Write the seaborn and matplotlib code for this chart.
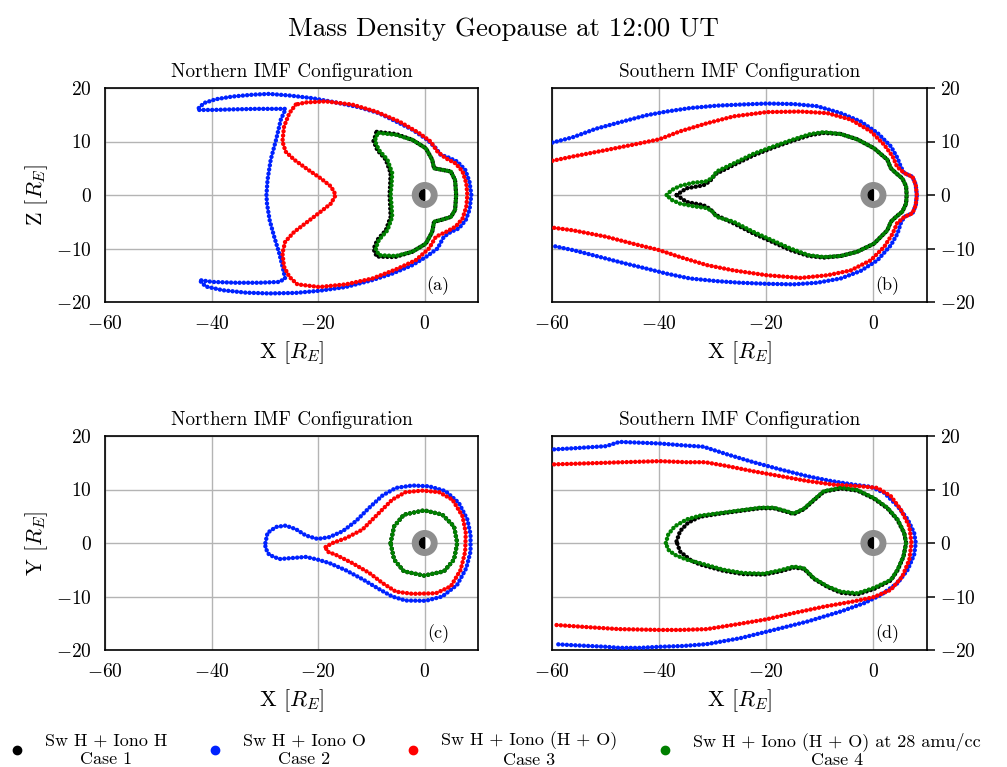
import numpy as np
import pandas as pd
import matplotlib
matplotlib.use("Agg")
import matplotlib.pyplot as plt
from matplotlib.patches import Circle, Wedge
from matplotlib.lines import Line2D
import seaborn as sns

sns.set_style("white")
plt.rcParams["font.family"] = "serif"
plt.rcParams["font.serif"] = ["cmr10", "DejaVu Serif"]
plt.rcParams["mathtext.fontset"] = "cm"
plt.rcParams["axes.formatter.use_mathtext"] = True
plt.rcParams["axes.unicode_minus"] = True
for k in ["text.color", "axes.labelcolor", "xtick.color", "ytick.color", "axes.titlecolor"]:
    plt.rcParams[k] = "black"

# ---------------- data ----------------
# Panel (a): Northern IMF, X-Z plane
a_blue_x = [-42.4, -41.4, -39.2, -36.1, -32.3, -29.2, -25.4, -21.1, -16.7, -12.3, -8.6, -5.4, -2.3, 0.5, 2.1, 3.0, 4.25, 6.1, 7.6, 8.4, 8.75,
            8.4, 7.7, 6.4, 4.9, 3.6, 2.4, 0.2, -2.3, -6.1, -9.8, -14.8, -19.8, -24.2, -29.2, -33.6, -37.9, -41.1, -42.3,
            -39.8, -35.4, -31.1, -27.3, -26.2, -26.6, -27.3, -28.25, -29.1, -29.6, -29.7, -29.5, -28.9, -27.9, -27.0, -26.1,
            -27.9, -31.7, -36.1, -39.8, -42.3, -42.4]
a_blue_y = [16.25, 17.2, 17.9, 18.4, 18.75, 18.9, 18.6, 18.1, 17.3, 16.4, 15.3, 13.75, 12.2, 10.3, 8.75, 7.5, 7.1, 6.25, 4.7, 2.5, 0.0,
            -2.8, -4.7, -6.25, -6.9, -7.8, -10.0, -11.6, -13.1, -14.7, -15.9, -17.2, -17.9, -18.3, -18.4, -18.25, -17.8, -17.1, -15.9,
            -16.25, -16.4, -16.4, -16.25, -15.6, -13.75, -10.9, -7.8, -4.7, -1.6, 0.0, 2.8, 6.6, 10.3, 14.1, 16.1,
            16.1, 16.1, 16.0, 15.9, 15.9, 16.25]
a_red_x = [-24.2, -25.4, -26.4, -26.7, -26.1, -24.5, -22.0, -19.5, -17.6, -16.7, -17.6, -19.5, -22.0, -24.5, -26.2, -26.7, -26.4, -25.4, -23.9,
           -19.8, -14.8, -9.8, -5.4, -1.7, 0.8, 2.1, 4.0, 5.8, 7.1, 7.8, 8.0, 7.8, 7.1, 5.8, 3.9, 2.4, 1.1, -1.1, -4.8, -9.2, -13.6, -18.6, -22.3, -24.2]
a_red_y = [16.9, 15.3, 12.8, 10.0, 8.1, 6.6, 4.8, 3.1, 1.6, 0.0, -1.6, -3.1, -5.0, -6.9, -8.75, -10.9, -13.4, -15.3, -16.7,
           -17.2, -16.7, -15.6, -13.9, -12.2, -10.0, -7.8, -6.9, -5.9, -4.4, -2.2, 0.0, 2.2, 4.4, 5.9, 6.9, 8.1, 10.0, 11.6, 13.75, 15.6, 16.9, 17.5, 17.3, 16.9]
a_green_x = [-8.6, -5.4, -2.3, 0.2, 1.4, 1.75, 3.3, 4.9, 5.7, 5.9, 5.7, 4.9, 3.3, 1.75, 1.4, 0.2, -2.3, -5.4, -8.6, -9.2, -8.6, -7.0,
             -6.1, -6.25, -6.4, -6.25, -6.1, -7.0, -8.6, -9.3, -9.2, -8.6]
a_green_y = [11.6, 11.25, 10.3, 8.75, 6.6, 5.0, 4.7, 4.4, 2.8, 0.0, -2.8, -4.1, -4.6, -5.0, -6.9, -9.1, -10.6, -11.4, -11.25, -10.0, -8.4, -6.6,
             -4.1, -1.6, 0.0, 1.6, 4.1, 6.6, 8.4, 10.0, 10.9, 11.6]
a_black_x = [-9.0, -5.4, -2.3, 0.2, 1.4, 1.75, 3.3, 4.9, 5.7, 5.9, 5.7, 4.9, 3.3, 1.75, 1.4, 0.2, -2.3, -5.6, -9.0, -9.6, -8.9, -7.3,
             -6.4, -6.5, -6.6, -6.5, -6.4, -7.3, -8.9, -9.6, -9.0]
a_black_y = [11.8, 11.4, 10.3, 8.75, 6.6, 5.0, 4.7, 4.4, 2.8, 0.0, -2.8, -4.1, -4.6, -5.0, -6.9, -9.1, -10.6, -11.6, -11.5, -10.1, -8.4, -6.6,
             -4.1, -1.6, 0.0, 1.6, 4.1, 6.6, 8.4, 10.1, 11.8]

# Panel (b): Southern IMF, X-Z plane
b_blue_x = [-59.9, -56.1, -51.75, -46.75, -42.4, -38.6, -34.25, -29.25, -24.9, -19.9, -14.9, -10.5, -6.1, -2.4, 0.75, 3.25, 4.5, 5.1,
            5.75, 7.3, 7.9, 8.1, 7.9, 7.3, 5.75,
            5.1, 4.5, 3.25, 0.75, -2.4, -6.1, -10.5, -14.9, -19.9, -24.9, -29.25, -34.25, -38.6, -42.4, -46.75, -51.75, -56.1, -59.9]
b_blue_y = [9.8, 10.8, 12.4, 13.75, 14.9, 15.6, 16.25, 16.7, 16.9, 17.1, 17.0, 16.6, 15.3, 13.75, 11.6, 9.1, 6.9, 5.3,
            4.1, 3.4, 1.9, 0.0, -1.9, -3.4, -4.1,
            -5.3, -7.2, -9.4, -12.2, -14.2, -15.6, -16.4, -16.7, -16.6, -16.4, -16.1, -15.6, -14.7, -13.75, -12.7, -11.4, -10.3, -9.5]
b_red_x = [-59.9, -56.1, -49.9, -44.9, -40.0, -36.1, -31.1, -26.1, -19.9, -13.6, -8.6, -4.25, -0.5, 2.0, 3.6, 4.4,
           5.75, 7.3, 7.9, 8.1, 7.9, 7.3, 5.75,
           4.4, 3.6, 2.0, -0.5, -4.25, -8.6, -13.6, -19.9, -26.1, -31.1, -36.1, -40.0, -44.9, -49.9, -56.1, -59.9]
b_red_y = [6.4, 7.2, 8.4, 9.4, 10.4, 11.9, 13.4, 14.7, 15.5, 15.6, 15.3, 14.1, 11.9, 9.4, 7.2, 5.3,
           4.1, 3.4, 1.9, 0.0, -1.9, -3.4, -4.1,
           -5.3, -7.2, -9.7, -12.2, -14.1, -15.0, -15.5, -15.0, -14.1, -13.1, -11.6, -10.3, -9.1, -7.8, -6.6, -6.1]
b_green_x = [-38.6, -37.7, -36.1, -33.6, -31.4, -30.2, -29.25, -26.1, -22.4, -18.6, -14.9, -11.75, -9.25, -6.1, -3.0, 0.1, 2.6, 3.25,
             4.2, 5.4, 6.1, 6.2, 6.1, 5.4, 4.2, 3.25, 2.6, 0.1, -3.0, -6.1, -9.25, -12.1, -15.5, -18.6, -22.4, -26.1, -29.25,
             -30.2, -31.4, -33.6, -36.1, -37.7, -38.6]
b_green_y = [0.0, 0.9, 1.7, 2.3, 2.5, 3.1, 4.4, 5.9, 7.7, 9.1, 10.4, 11.4, 11.75, 11.4, 10.4, 8.75, 6.6, 5.0,
             4.1, 3.1, 1.6, 0.0, -1.6, -3.1, -4.1, -5.0, -6.6, -9.1, -10.6, -11.4, -11.6, -11.25, -10.0, -8.6, -6.9, -5.0, -4.1,
             -2.9, -2.4, -2.1, -1.6, -0.9, 0.0]
b_black_x = [-36.75, -34.9, -31.75, -30.5, -29.5, -26.1, -22.4, -18.6, -14.9, -11.75, -9.25, -6.1, -3.0, 0.1, 2.6, 3.25,
             4.2, 5.4, 6.1, 6.2, 6.1, 5.4, 4.2, 3.25, 2.6, 0.1, -3.0, -6.1, -9.25, -12.1, -15.5, -18.6, -22.4, -26.1, -29.5,
             -30.5, -31.75, -34.9, -36.75]
b_black_y = [0.0, 1.25, 1.8, 2.6, 3.9, 5.6, 7.4, 8.9, 10.2, 11.2, 11.6, 11.4, 10.4, 8.75, 6.6, 5.0,
             4.1, 3.1, 1.6, 0.0, -1.6, -3.1, -4.1, -5.0, -6.6, -9.1, -10.6, -11.4, -11.7, -11.4, -10.3, -8.9, -7.2, -5.3, -3.7,
             -2.6, -1.9, -1.3, 0.0]

# Panel (c): Northern IMF, X-Y plane
c_blue_x = [-29.9, -29.5, -27.9, -26.1, -24.2, -22.3, -20.1, -17.9, -15.4, -12.9, -10.4, -7.9, -5.4, -2.3, 0.8, 3.9, 6.4, 8.0, 8.6,
            8.6, 7.8, 6.1, 3.3, 0.2, -3.6, -6.1, -8.6, -11.7, -14.8, -17.9, -20.1, -22.3, -24.8, -27.3, -29.2, -29.9, -29.9]
c_blue_y = [0.0, 1.9, 3.0, 3.25, 2.6, 1.4, 0.75, 1.1, 2.2, 4.1, 6.6, 8.9, 10.3, 10.75, 10.6, 9.7, 7.5, 4.4, 1.6,
            -1.6, -4.7, -7.8, -10.0, -10.8, -10.75, -10.0, -8.6, -6.75, -5.1, -3.75, -3.1, -2.6, -2.8, -3.0, -2.2, -0.9, 0.0]
c_red_x = [-18.6, -17.3, -14.8, -11.7, -8.6, -6.1, -3.6, -0.4, 2.7, 5.2, 7.1, 7.7, 7.6, 6.75, 4.9, 2.1, -2.3, -5.4, -7.9, -10.4,
           -13.6, -16.7, -18.3, -18.6]
c_red_y = [-0.75, 0.0, 0.9, 2.5, 5.6, 8.1, 9.5, 9.8, 9.5, 8.1, 5.0, 1.9, -1.6, -5.0, -8.1, -9.4, -9.5, -9.1, -7.5, -5.6,
           -3.75, -2.2, -1.6, -0.75]
c_green_x = [-6.4, -5.75, -3.9, -0.1, 3.3, 5.5, 6.1, 5.5, 3.6, -0.1, -3.9, -5.75, -6.4]
c_green_y = [0.0, 3.1, 5.3, 6.1, 5.3, 3.1, 0.0, -3.1, -5.3, -6.1, -5.3, -3.1, 0.0]
c_black_x = [-6.4, -5.75, -3.9, -0.1, 3.3, 5.5, 6.1, 5.5, 3.6, -0.1, -3.9, -5.75, -6.4]
c_black_y = [0.0, 3.1, 5.3, 6.1, 5.3, 3.1, 0.0, -3.1, -5.3, -6.1, -5.3, -3.1, 0.0]

# Panel (d): Southern IMF, X-Y plane
d_blue_x = [-59.6, -56.1, -49.9, -47.4, -43.6, -39.9, -35.5, -31.75, -27.4, -22.4, -17.4, -12.4, -8.0, -3.6, -0.5, 2.0, 4.5, 6.4, 7.6, 7.9,
            7.6, 6.4, 4.5, 1.4, -1.75, -6.1, -12.4, -18.6, -24.9, -31.1, -35.5, -39.9, -43.6, -47.4, -49.9, -56.1, -59.6]
d_blue_y = [17.5, 17.7, 18.1, 18.9, 18.75, 18.6, 18.25, 18.0, 16.6, 15.1, 13.75, 12.5, 11.6, 10.9, 10.5, 9.4, 6.9, 4.4, 1.9, 0.0,
            -2.2, -5.0, -7.5, -9.7, -11.25, -12.8, -14.7, -16.25, -17.8, -18.9, -19.25, -19.4, -19.6, -19.6, -19.4, -19.1, -18.9]
d_red_x = [-59.6, -53.0, -46.75, -39.9, -34.9, -31.4, -27.4, -22.4, -17.4, -12.4, -7.4, -2.4, 0.75, 3.25, 5.1, 6.7, 7.1,
           6.7, 5.4, 3.25, 0.1, -3.6, -9.25, -14.9, -19.9, -24.9, -31.1, -36.1, -39.9, -47.4, -53.0, -59.6]
d_red_y = [14.7, 14.9, 15.1, 15.3, 15.1, 15.1, 14.4, 13.4, 12.5, 11.6, 10.9, 10.6, 10.3, 8.75, 6.25, 3.1, 0.0,
           -3.1, -6.25, -8.75, -10.1, -10.9, -11.9, -13.1, -14.25, -15.1, -16.1, -16.25, -16.25, -16.1, -15.75, -15.3]
d_green_x = [-38.75, -38.3, -37.1, -34.9, -32.4, -28.6, -24.9, -21.1, -18.6, -16.1, -14.9, -13.0, -11.1, -9.25, -6.1, -3.0, 0.1, 2.6,
             4.5, 5.75, 6.1, 5.6, 4.5, 3.25, 0.1, -3.0, -6.1, -8.6, -11.1, -13.0, -14.9, -17.4, -20.5, -24.4, -28.0, -32.4,
             -34.9, -37.1, -38.3, -38.75]
d_green_y = [0.0, 1.6, 3.1, 4.4, 5.1, 5.6, 6.1, 6.6, 6.6, 5.9, 5.5, 6.4, 8.1, 9.7, 10.3, 9.9, 8.4, 6.6,
             4.4, 1.9, 0.0, -2.5, -5.0, -6.9, -8.4, -9.4, -9.1, -8.1, -6.6, -4.7, -4.4, -5.1, -5.75, -5.6, -5.0, -3.75,
             -3.1, -2.2, -1.25, 0.0]
d_black_x = [-36.75, -36.1, -34.6, -32.4, -28.6, -24.9, -21.1, -18.6, -16.1, -14.9, -13.0, -11.1, -9.25, -6.1, -3.0, 0.1, 2.6,
             4.5, 5.75, 6.1, 5.6, 4.5, 3.25, 0.1, -3.0, -6.1, -8.6, -11.1, -13.0, -14.9, -17.4, -20.5, -24.4, -28.0, -32.4,
             -34.0, -36.1, -36.75]
d_black_y = [0.3, 2.2, 3.8, 4.9, 5.5, 6.0, 6.5, 6.5, 5.8, 5.4, 6.3, 8.0, 9.6, 10.2, 9.8, 8.3, 6.5,
             4.3, 1.8, 0.0, -2.6, -5.1, -7.0, -8.6, -9.6, -9.3, -8.2, -6.7, -4.8, -4.6, -5.3, -5.9, -5.8, -5.2, -4.0,
             -3.3, -1.6, 0.3]

case_labels = ["Sw H + Iono H\nCase 1", "Sw H + Iono O\nCase 2",
               "Sw H + Iono (H + O)\nCase 3", "Sw H + Iono (H + O) at 28 amu/cc\nCase 4"]
case_colors = ["black", "#0022ff", "#ff0000", "#008000"]
panel_titles = ["Northern IMF Configuration", "Southern IMF Configuration",
                "Northern IMF Configuration", "Southern IMF Configuration"]
panel_tags = ["(a)", "(b)", "(c)", "(d)"]
y_labels = ["Z [$R_E$]", "Z [$R_E$]", "Y [$R_E$]", "Y [$R_E$]"]
x_ticks = [-60, -40, -20, 0]
y_ticks = [-20, -10, 0, 10, 20]

panels = [
    [(a_black_x, a_black_y), (a_blue_x, a_blue_y), (a_red_x, a_red_y), (a_green_x, a_green_y)],
    [(b_black_x, b_black_y), (b_blue_x, b_blue_y), (b_red_x, b_red_y), (b_green_x, b_green_y)],
    [(c_black_x, c_black_y), (c_blue_x, c_blue_y), (c_red_x, c_red_y), (c_green_x, c_green_y)],
    [(d_black_x, d_black_y), (d_blue_x, d_blue_y), (d_red_x, d_red_y), (d_green_x, d_green_y)],
]

# ---------------- figure ----------------
fig = plt.figure(figsize=(10.07, 7.67), dpi=100)
W, H = 1007, 767
boxes = [(105, 88, 478, 302), (552, 88, 927, 302), (105, 436, 478, 650), (552, 436, 927, 650)]

for i, (l, t, r, b) in enumerate(boxes):
    ax = fig.add_axes([l / W, 1 - b / H, (r - l) / W, (b - t) / H])
    for j, (xs, ys) in enumerate(panels[i]):
        df = pd.DataFrame({"x": xs, "y": ys})
        sns.lineplot(data=df, x="x", y="y", sort=False, estimator=None, ax=ax,
                     color=case_colors[j], lw=3.2, legend=False)
        ln = ax.lines[-1]
        ln.set_linestyle((0, (0.01, 0.95)))
        ln.set_dash_capstyle("round")
        ln.set_zorder(3 + j)
    # Earth
    ax.add_patch(Circle((0, 0), 2.3, color="#8e8e8e", zorder=10))
    ax.add_patch(Circle((0, 0), 1.0, color="white", zorder=11))
    ax.add_patch(Wedge((0, 0), 1.0, 90, 270, color="black", zorder=12))

    ax.set_xlim(-60, 10)
    ax.set_ylim(-20, 20)
    ax.set_xticks(x_ticks)
    ax.set_yticks(y_ticks)
    ax.grid(True, color="#b4b4b4", lw=1.0)
    ax.set_axisbelow(True)
    for s in ax.spines.values():
        s.set_color("black")
        s.set_linewidth(1.2)
    ax.tick_params(direction="out", length=6, width=1.1, labelsize=14, colors="black")
    ax.set_xlabel("X [$R_E$]", fontsize=16)
    if i % 2 == 1:
        ax.yaxis.tick_right()
        ax.set_ylabel("")
    else:
        ax.set_ylabel(y_labels[i], fontsize=16)
    ax.set_title(panel_titles[i], fontsize=13.8, pad=8)
    ax.text(0.893, 0.075, panel_tags[i], transform=ax.transAxes, ha="center", va="center", fontsize=13, zorder=20)

fig.suptitle("Mass Density Geopause at 12:00 UT", fontsize=19.4, y=0.978)

handles = [Line2D([], [], marker="o", ls="", color=c, markersize=6) for c in case_colors]
leg = fig.legend(handles, case_labels, ncol=4, loc="center left", bbox_to_anchor=(7.5 / W, 1 - 750 / H),
                 frameon=False, fontsize=13, handletextpad=1.05, columnspacing=2.15, handlelength=1.0,
                 borderpad=0.0, borderaxespad=0.0)
for t in leg.get_texts():
    t.set_multialignment("center")

fig.savefig("out.png", dpi=100)
